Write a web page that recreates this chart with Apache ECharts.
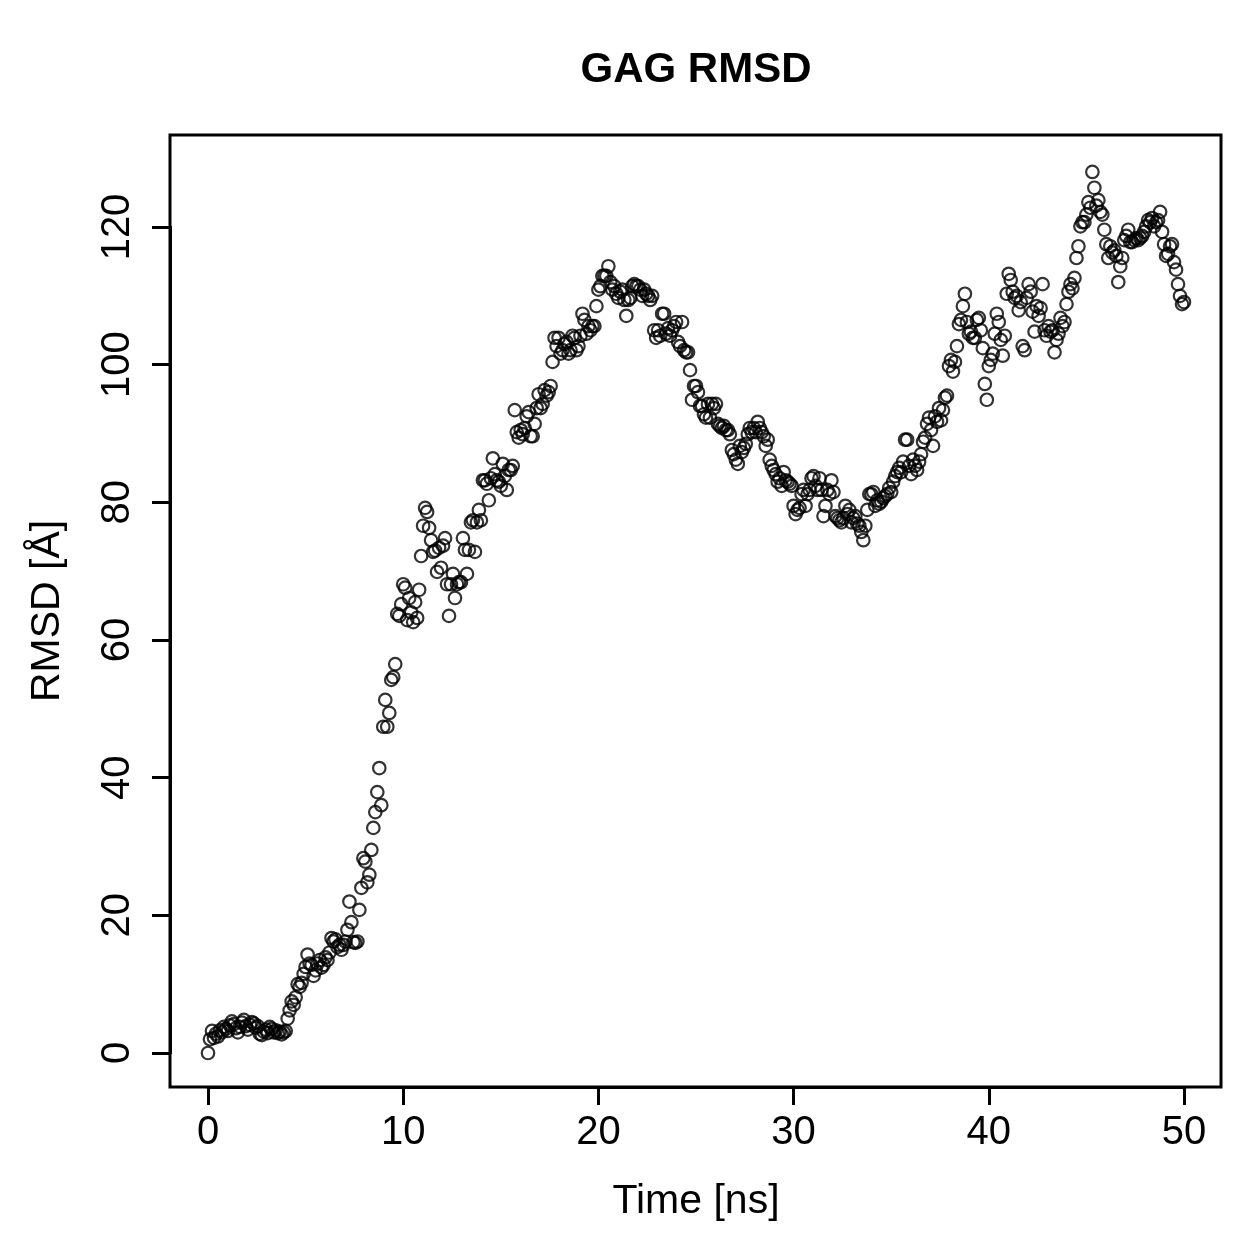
<!DOCTYPE html>
<html>
<head>
<meta charset="utf-8">
<title>GAG RMSD</title>
<script src="https://cdn.jsdelivr.net/npm/echarts@6/dist/echarts.min.js"></script>
<style>
  html, body { margin: 0; padding: 0; background: #fff; }
  #chart { width: 1259px; height: 1259px; }
</style>
</head>
<body>
<div id="chart"></div>
<script>
// RMSD samples, in time order (evenly spaced from 0 to 50 ns)
const rmsd = [
  0, 2, 3.2, 2.2, 2.8, 2.4, 3.3, 3.0, 3.8, 3.5,
  3.2, 4.0, 4.6, 4.2, 3.6, 3.0, 3.8, 4.4, 4.8, 3.9,
  3.4, 4.1, 4.5, 4.3, 3.7, 3.9, 2.8, 2.6, 3.1, 3.4,
  2.9, 3.8, 3.5, 3.0, 3.3, 2.9, 3.1, 2.7, 3.0, 3.2,
  5.0, 6.2, 7.5, 7.0, 8.1, 10.0, 9.6, 10.2, 11.5, 12.5,
  14.3, 13.0, 12.8, 11.2, 12.0, 13.0, 13.5, 12.4, 12.8, 13.9,
  13.5, 14.6, 16.7, 16.2, 16.5, 15.4, 15.7, 15.0, 15.7, 16.2,
  17.9, 22.0,
  19.0, 16.1, 16.0, 16.2, 20.8, 24.0, 28.3, 27.8, 24.8, 25.9,
  29.5, 32.7, 35.0, 37.9, 41.4, 36.0, 47.4, 51.3, 47.4, 49.4,
  54.2, 54.6, 56.5, 63.8, 63.5, 65.2, 68.1, 67.6, 62.9, 66.1,
  64.0, 62.6, 65.5, 63.2, 67.3,
  72.2, 76.6, 79.2, 78.6, 76.3, 74.5, 72.8, 73.0, 69.9, 73.4,
  70.5, 73.7, 74.8, 68.1, 63.5, 68.1, 69.6, 66.1, 68.1, 68.4,
  68.4, 74.8, 73.1, 69.6, 73.1, 77.1, 77.4, 72.8, 77.1, 78.9,
  77.4, 83.2, 83.2, 82.7, 80.3, 83.5, 86.4, 84.1, 83.2, 83.0,
  82.4, 85.6, 83.8, 81.8, 84.7, 84.7, 85.3, 93.4, 90.2, 89.4,
  90.5, 89.9, 90.8, 92.5, 93.1, 89.6, 89.6, 91.4, 93.7, 95.7,
  93.7, 94.3, 96.3, 95.5, 96.0, 96.9, 100.4, 103.9, 102.7, 103.9,
  101.6, 102.1, 103.0, 103.3, 101.6, 102.1, 104.2, 103.9, 102.1, 102.7,
  104.2, 107.4, 106.5, 104.5, 105.6, 105.0, 105.6, 105.6, 108.5, 110.9,
  111.4, 112.9, 112.9, 112.9, 114.3, 112.0, 110.9, 111.4, 110.3, 109.7,
  110.6, 110.9, 109.4, 107.1, 109.4, 109.7, 111.4, 111.7, 111.4, 111.4,
  110.9, 110.0, 110.9, 110.3, 110.0, 109.4, 110.0, 105.0, 103.9, 105.0,
  104.2, 107.4, 107.4, 104.5, 105.3, 104.2, 105.0, 105.6, 106.2, 103.3,
  102.7, 106.2, 102.1, 101.8, 101.8, 99.2, 94.9, 96.9, 96.9, 96.0,
  94.0, 94.0, 92.8, 92.3, 94.3, 92.3, 94.3, 93.7, 94.3, 91.4,
  91.1, 90.8, 91.1, 90.5, 90.5, 89.9, 87.6, 87.0, 86.2, 85.6,
  88.2, 87.3, 87.9, 88.5, 89.9, 90.8, 90.2, 90.8, 90.2, 91.7,
  90.8, 90.2, 89.6, 88.2, 89.1, 86.2, 85.3, 84.7, 84.1, 83.0,
  83.5, 82.4, 84.4, 83.2, 83.0, 82.7, 82.4, 79.5, 78.3, 78.9,
  79.2, 81.2, 81.8, 79.5, 81.2, 81.8, 83.5, 83.8, 82.4, 81.8,
  83.5, 81.8, 78.0, 79.5, 81.8, 81.2, 83.2, 81.5, 78.0, 77.7,
  77.4, 77.1, 77.7, 79.5, 78.3, 78.9, 77.1, 77.7, 78.0, 76.9,
  76.6, 75.7, 74.5, 76.6, 78.9, 81.2, 81.2, 81.5, 79.5, 80.3,
  79.8, 80.1, 80.6, 80.9, 81.2, 82.1, 81.5, 83.0, 83.8, 84.4,
  85.0, 84.4, 85.9, 89.1, 89.1, 85.3, 84.1, 86.2, 85.3, 84.7,
  85.9, 87.0, 88.8, 89.4, 91.4, 92.3, 90.5, 88.2, 92.5, 91.7,
  93.7, 91.9, 93.4, 95.2, 95.5, 99.8, 100.7, 99.0, 100.4, 102.7,
  105.9, 106.5, 108.5, 110.3, 106.2, 104.5, 104.8, 103.9, 103.9, 106.5,
  106.8, 105.0, 102.4, 97.2, 94.9, 99.8, 100.7, 101.6, 104.5, 107.4,
  106.2, 103.6, 101.3, 104.2, 110.3, 113.2, 112.3, 110.6, 109.7, 110.0,
  107.9, 109.1, 102.7, 102.1, 109.7, 111.7, 110.6, 107.7, 104.8, 108.5,
  107.1, 108.2, 111.7, 105.0, 104.2, 105.6, 104.8, 105.0, 101.8, 103.6,
  104.5, 106.8, 105.6, 106.2, 108.8, 110.6, 111.7, 111.1, 112.6, 115.5,
  117.2, 120.1, 120.7, 120.7, 121.8, 123.6, 122.8, 128.0, 125.7, 123.1,
  123.9, 122.2, 121.8, 119.6, 117.5, 115.5, 117.2, 116.3, 116.6, 115.8,
  112.0, 114.3, 115.5, 118.1, 118.7, 119.6, 117.8, 117.8, 118.1, 118.4,
  118.1, 118.4, 118.7, 119.3, 120.1, 121.0, 120.7, 121.3, 120.1, 120.7,
  121.0, 122.2, 119.3, 117.5, 115.8, 116.1, 117.2, 117.5, 114.9, 113.8,
  111.7, 110.0, 108.8, 109.1
];
const timeStart = 0;
const timeEnd = 50;
const xTicks = [0, 10, 20, 30, 40, 50];
const yTicks = [0, 20, 40, 60, 80, 100, 120];

const font = '"Liberation Sans", Arial, Helvetica, sans-serif';
const step = (timeEnd - timeStart) / (rmsd.length - 1);
const points = rmsd.map((v, i) => [timeStart + i * step, v]);

const chart = echarts.init(document.getElementById('chart'));
chart.setOption({
  backgroundColor: '#fff',
  animation: false,
  grid: {
    left: 208,
    top: 227,
    width: 976,
    height: 826
  },
  xAxis: {
    type: 'value',
    min: xTicks[0],
    max: xTicks[xTicks.length - 1],
    interval: 10,
    offset: 34,
    splitLine: { show: false },
    axisLine: { show: true, onZero: false, lineStyle: { color: '#000', width: 3 } },
    axisTick: { show: true, length: 18, lineStyle: { color: '#000', width: 3 } },
    axisLabel: {
      color: '#000',
      fontFamily: font,
      fontSize: 40,
      margin: 26
    }
  },
  yAxis: {
    type: 'value',
    min: yTicks[0],
    max: yTicks[yTicks.length - 1],
    interval: 20,
    offset: 38,
    splitLine: { show: false },
    axisLine: { show: true, onZero: false, lineStyle: { color: '#000', width: 3 } },
    axisTick: { show: true, length: 18, lineStyle: { color: '#000', width: 3 } },
    axisLabel: {
      color: '#000',
      fontFamily: font,
      fontSize: 40,
      rotate: 90,
      margin: 32
    }
  },
  graphic: [
    {
      type: 'rect',
      shape: { x: 170, y: 135, width: 1051, height: 952 },
      style: { fill: 'none', stroke: '#000', lineWidth: 3 },
      silent: true
    },
    {
      type: 'text',
      x: 696, y: 70,
      style: {
        text: 'GAG RMSD',
        font: 'bold 42px ' + font,
        fill: '#000',
        textAlign: 'center',
        textVerticalAlign: 'middle'
      }
    },
    {
      type: 'text',
      x: 696, y: 1202,
      style: {
        text: 'Time [ns]',
        font: '41px ' + font,
        fill: '#000',
        textAlign: 'center',
        textVerticalAlign: 'middle'
      }
    },
    {
      type: 'text',
      x: 48, y: 611,
      rotation: Math.PI / 2,
      style: {
        text: 'RMSD [Å]',
        font: '41px ' + font,
        fill: '#000',
        textAlign: 'center',
        textVerticalAlign: 'middle'
      }
    }
  ],
  series: [
    {
      type: 'scatter',
      data: points,
      clip: false,
      symbol: 'circle',
      symbolSize: 12.5,
      itemStyle: {
        color: 'rgba(0,0,0,0)',
        borderColor: '#000',
        borderWidth: 2.2
      }
    }
  ]
});
</script>
</body>
</html>
